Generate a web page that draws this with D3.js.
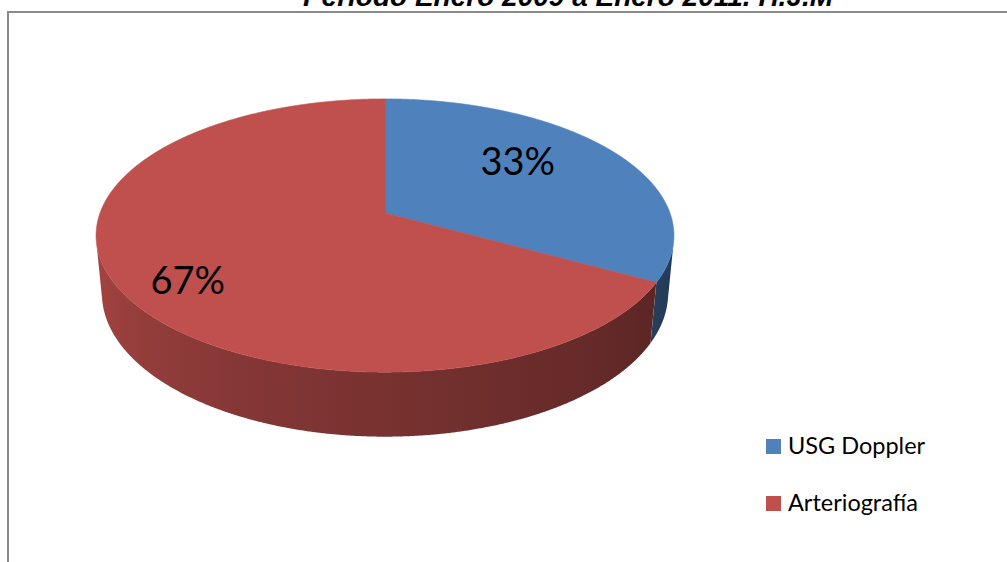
<!DOCTYPE html>
<html>
<head>
<meta charset="utf-8">
<script src="https://cdn.jsdelivr.net/npm/d3@7"></script>
<style>
  html, body { margin: 0; padding: 0; background: #ffffff; }
  svg { display: block; }
</style>
</head>
<body>
<svg id="chart" width="1007" height="562"></svg>
<script>
// Chart data
const title = "Periodo Enero 2009 a Enero 2011. H.J.M";
const categories = ["USG Doppler", "Arteriografía"];
const values = [33, 67];
const colors = ["#4f81bd", "#c0504d"];

const W = 1007, H = 562;
const svg = d3.select("#chart");
const defs = svg.append("defs");

// Outer frame (only its top and left edges fall inside the view)
svg.append("path")
  .attr("d", `M8,${H + 5} L8,12 L${W + 5},12`)
  .attr("fill", "none")
  .attr("stroke", "#8a8a8a")
  .attr("stroke-width", 2);

// Title, partly above the top of the view
svg.append("text")
  .attr("x", 568).attr("y", 5.5)
  .attr("text-anchor", "middle")
  .attr("font-family", "'Liberation Sans', Arial, sans-serif")
  .attr("font-weight", "bold").attr("font-style", "italic")
  .attr("font-size", 28)
  .attr("fill", "#000")
  .text(title);

// ---- 3D pie geometry (perspective view of a tilted disc) ----
const cx = 385, cy = 213;      // projected centre of the top face
const R = 285;                  // disc radius
const elev = 27.8 * Math.PI / 180;
const sinE = Math.sin(elev), cosE = Math.cos(elev);
const camD = 1529;              // camera distance
const depth = 66;               // disc thickness

// a: angle clockwise from 12 o'clock (radians); y: height (0 top, -depth bottom); k: radius fraction
function project(a, y = 0, k = 1) {
  const X = R * k * Math.sin(a);
  const Zb = -R * k * Math.cos(a);
  const v = y * cosE - Zb * sinE;
  const d = Zb * cosE + y * sinE;
  const s = camD / (camD - d);
  return [cx + X * s, cy - v * s];
}

// outer wall faces the camera?
function wallVisible(a) {
  const y = -depth / 2;
  const X = R * Math.sin(a), Zb = -R * Math.cos(a);
  const v = y * cosE - Zb * sinE;
  const d = Zb * cosE + y * sinE;
  const nX = Math.sin(a), nv = Math.cos(a) * sinE, nd = -Math.cos(a) * cosE;
  return (-X) * nX + (-v) * nv + (camD - d) * nd > 0;
}

const pie = d3.pie().sort(null).value(d => d);
const arcs = pie(values);
const line = d3.line();
const deg = Math.PI / 180;

// wall shading: darker towards the right, lighter towards the left
const shade = d3.scaleLinear()
  .domain([100 * deg, 270 * deg])
  .range([2.3, 0.25])
  .clamp(true);

const step = 0.25 * deg;

// outer walls: one path per slice over its visible angle range, shaded with a horizontal gradient
const wallLayer = svg.append("g");
arcs.forEach((arc, i) => {
  const angles = [];
  for (let a = arc.startAngle; a <= arc.endAngle + 1e-9; a += step) {
    const aa = Math.min(a, arc.endAngle);
    if (wallVisible(aa)) angles.push(aa);
  }
  if (angles.length < 2) return;
  const topEdge = angles.map(a => project(a, 0));
  const botEdge = angles.map(a => project(a, -depth)).reverse();
  const xs = topEdge.map(p => p[0]).concat(botEdge.map(p => p[0]));
  const x0 = d3.min(xs), x1 = d3.max(xs);
  const gid = "wall" + i;
  const grad = defs.append("linearGradient")
    .attr("id", gid)
    .attr("gradientUnits", "userSpaceOnUse")
    .attr("x1", x0).attr("y1", 0).attr("x2", x1).attr("y2", 0);
  const nStops = 24;
  const stops = d3.range(nStops + 1).map(j => {
    const a = angles[0] + (angles[angles.length - 1] - angles[0]) * j / nStops;
    const p = project(a, 0);
    return { off: (p[0] - x0) / Math.max(1, x1 - x0), col: d3.color(colors[i]).darker(shade(a)).formatHex() };
  }).sort((p, q) => p.off - q.off);
  grad.selectAll("stop").data(stops).join("stop")
    .attr("offset", d => Math.max(0, Math.min(1, d.off)))
    .attr("stop-color", d => d.col);
  wallLayer.append("path")
    .attr("d", line(topEdge.concat(botEdge)) + "Z")
    .attr("fill", `url(#${gid})`);
});

// top faces
const faceLayer = svg.append("g");
arcs.forEach((arc, i) => {
  const n = Math.max(2, Math.ceil((arc.endAngle - arc.startAngle) / step));
  const pts = [project(0, 0, 0)];
  for (let j = 0; j <= n; j++) {
    pts.push(project(arc.startAngle + (arc.endAngle - arc.startAngle) * j / n, 0));
  }
  faceLayer.append("path")
    .attr("d", line(pts) + "Z")
    .attr("fill", colors[i])
    .attr("stroke", colors[i])
    .attr("stroke-width", 0.6);
});

// percentage labels
const total = d3.sum(values);
const labelPlace = [[50, 0.65], [234, 0.79]];   // angle (deg), radius fraction
svg.append("g").selectAll("text")
  .data(arcs)
  .join("text")
  .attr("x", (d, i) => project(labelPlace[i][0] * deg, 0, labelPlace[i][1])[0])
  .attr("y", (d, i) => project(labelPlace[i][0] * deg, 0, labelPlace[i][1])[1])
  .attr("dy", "0.36em")
  .attr("text-anchor", "middle")
  .attr("font-family", "Lato, 'Open Sans', sans-serif")
  .attr("font-size", 38)
  .attr("fill", "#000")
  .text(d => Math.round(d.value / total * 100) + "%");

// legend
const legend = svg.append("g").attr("transform", "translate(766,439)");
const item = legend.selectAll("g")
  .data(categories)
  .join("g")
  .attr("transform", (d, i) => `translate(0,${i * 57})`);
item.append("rect")
  .attr("width", 15).attr("height", 15)
  .attr("fill", (d, i) => colors[i]);
item.append("text")
  .attr("x", 22).attr("y", 15)
  .attr("font-family", "Lato, 'Open Sans', sans-serif")
  .attr("font-size", 23.5)
  .attr("fill", "#000")
  .text(d => d);
</script>
</body>
</html>
